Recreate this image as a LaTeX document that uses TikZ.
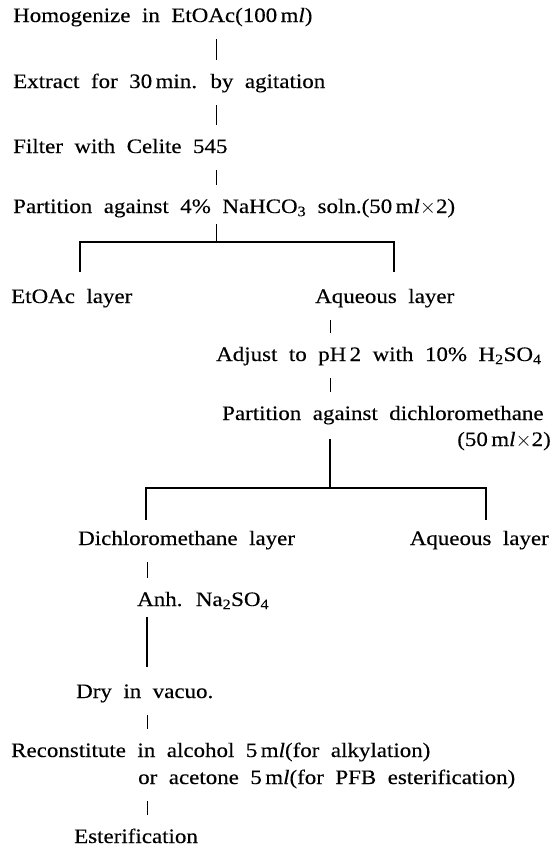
\documentclass[tikz,border=0pt]{standalone}
\usepackage{fontspec}
\setmainfont{Liberation Serif}[FakeStretch=1.12,WordSpace=2,FakeBold=0.3]
\usepackage{tikz}
\usetikzlibrary{positioning,calc}

\begin{document}
\begin{tikzpicture}[
    x=1pt,
    y=-1pt,
    stage/.style={
        anchor=base west,
        inner sep=0pt,
        text height=14pt,
        text depth=4pt,
        font=\fontsize{20.5}{24}\selectfont
    },
    tick/.style={
        line width=0.8pt,
        shorten <=13pt,
        shorten >=14pt
    },
    bar/.style={
        line width=1.2pt
    }
]
\useasboundingbox (0,0) rectangle (552,847);

% spines of the three columns
\coordinate (spineA) at (216,0);
\coordinate (spineB) at (330,0);
\coordinate (spineC) at (147,0);

\node[stage] (homog) at (13,22)
{Homogenize in EtOAc(100\,m\textit{l})};

\node[stage] (extract) at (13,88)
{Extract for 30\,min. by agitation};

\node[stage] (filter) at (13,153)
{Filter with Celite 545};

\node[stage] (part1) at (13,213)
{Partition against 4\% NaHCO\textsubscript{3} soln.(50\,m\textit{l}$\times$2)};

\node[stage] (etoac) at (11,303)
{EtOAc layer};

\node[stage] (aq1) at (315,303)
{Aqueous layer};

\node[stage] (adjust) at (216,361)
{Adjust to pH\,2 with 10\% H\textsubscript{2}SO\textsubscript{4}};

\node[stage] (part2) at (222,420)
{Partition against dichloromethane};

\node[stage,anchor=base east] (part2b) at (551,446)
{(50\,m\textit{l}$\times$2)};

\node[stage] (dcm) at (78,545)
{Dichloromethane layer};

\node[stage,anchor=base east] (aq2) at (549,545)
{Aqueous layer};

\node[stage] (anh) at (137,606)
{Anh. Na\textsubscript{2}SO\textsubscript{4}};

\node[stage] (dry) at (76,698)
{Dry in vacuo.};

\node[stage] (recon) at (11,757)
{Reconstitute in alcohol 5\,m\textit{l}(for alkylation)};

\node[stage] (acet) at (138,784)
{or acetone 5\,m\textit{l}(for PFB esterification)};

\node[stage] (ester) at (74,843)
{Esterification};

% branch points
\coordinate (split1) at (216,242);
\coordinate (left1) at (80,242);
\coordinate (right1) at (394,242);
\coordinate (split2) at (330,488);
\coordinate (left2) at (146,488);
\coordinate (right2) at (486,488);

\draw[tick] (homog.south -| spineA) -- (extract.north -| spineA);
\draw[tick] (extract.south -| spineA) -- (filter.north -| spineA);
\draw[tick] (filter.south -| spineA) -- (part1.north -| spineA);
\draw[tick,shorten <=7pt,shorten >=0pt] (part1.south -| split1) -- (split1);
\draw[bar,shorten <=17pt,shorten >=17pt]
    (left1 |- etoac.north) -- (left1) -- (right1) -- (right1 |- aq1.north);

\draw[tick] (aq1.south -| spineB) -- (adjust.north -| spineB);
\draw[tick] (adjust.south -| spineB) -- (part2.north -| spineB);
\draw[tick,line width=1.1pt,shorten <=15pt,shorten >=0pt] (part2.south -| split2) -- (split2);
\draw[bar,shorten <=11pt,shorten >=11pt]
    (left2 |- dcm.north) -- (left2) -- (right2) -- (right2 |- aq2.north);

\draw[tick] (dcm.south -| spineC) -- (anh.north -| spineC);
\draw[tick,line width=1.2pt,shorten <=7pt,shorten >=17pt] (anh.south -| spineC) -- (dry.north -| spineC);
\draw[tick] (dry.south -| spineC) -- (recon.north -| spineC);
\draw[tick] (acet.south -| spineC) -- (ester.north -| spineC);

\end{tikzpicture}
\end{document}
